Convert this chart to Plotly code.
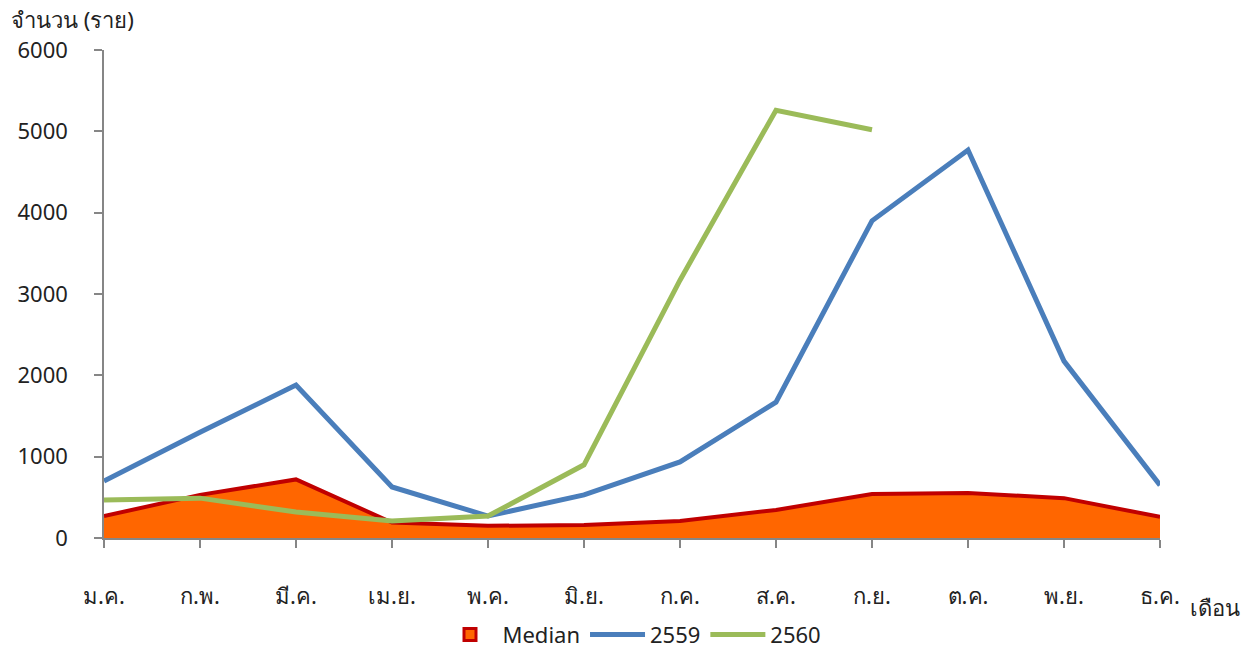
import plotly.graph_objects as go

months = ["ม.ค.", "ก.พ.", "มี.ค.", "เม.ย.", "พ.ค.", "มิ.ย.", "ก.ค.", "ส.ค.", "ก.ย.", "ต.ค.", "พ.ย.", "ธ.ค."]
median = [270, 530, 720, 190, 150, 160, 210, 345, 540, 553, 490, 260]
y2559 = [700, 1300, 1880, 627, 270, 530, 935, 1670, 3900, 4770, 2175, 650]
y2560 = [467, 490, 320, 210, 270, 900, 3170, 5260, 5020]

x_all = list(range(len(months)))
font_family = "Noto Sans, Open Sans, sans-serif"

fig = go.Figure()
# Median area (legend entry drawn by a boxed swatch below)
fig.add_trace(go.Scatter(
    x=x_all, y=median, name="Median", mode="lines",
    fill="tozeroy", fillcolor="#FF6600",
    line=dict(color="#C00000", width=4), showlegend=False,
))
fig.add_trace(go.Bar(
    x=[None], y=[None], name="Median",
    marker=dict(color="#FF6600", line=dict(color="#C00000", width=3)),
))
fig.add_trace(go.Scatter(
    x=x_all, y=y2559, name="2559", mode="lines",
    line=dict(color="#4A7EBB", width=5),
))
fig.add_trace(go.Scatter(
    x=x_all[:len(y2560)], y=y2560, name="2560", mode="lines",
    line=dict(color="#9BBB59", width=5),
))

fig.update_layout(
    width=1251, height=651,
    margin=dict(l=104, r=91, t=50, b=113, autoexpand=False),
    plot_bgcolor="white", paper_bgcolor="white",
    font=dict(family=font_family, size=22, color="#222222"),
    showlegend=True,
    legend=dict(
        orientation="h", x=0.5, xanchor="center",
        yref="container", y=0.025, yanchor="middle",
        font=dict(size=22), tracegroupgap=0, itemwidth=55,
    ),
    xaxis=dict(
        range=[0, 11], tickmode="array", tickvals=x_all, ticktext=months,
        showgrid=False, zeroline=False, showline=True,
        linecolor="#868686", linewidth=1.5,
        ticks="outside", ticklen=8, tickcolor="#868686", tickwidth=1.5,
        ticklabelstandoff=30,
        tickfont=dict(size=22),
    ),
    yaxis=dict(
        range=[0, 6000], tickmode="array", tickvals=[0, 1000, 2000, 3000, 4000, 5000, 6000],
        showgrid=False, zeroline=False, showline=True,
        linecolor="#868686", linewidth=1.5,
        ticks="outside", ticklen=8, tickcolor="#868686", tickwidth=1.5,
        ticklabelstandoff=22,
        tickfont=dict(size=22),
    ),
    annotations=[
        dict(text="จำนวน (ราย)", xref="paper", yref="paper", x=-0.09, y=1.0,
             xanchor="left", yanchor="bottom", yshift=14, showarrow=False,
             font=dict(size=22)),
        dict(text="เดือน", xref="paper", yref="paper", x=1.0, y=0, xshift=28,
             xanchor="left", yanchor="top", yshift=-52, showarrow=False,
             font=dict(size=22)),
    ],
)

fig.write_html("out.html")
